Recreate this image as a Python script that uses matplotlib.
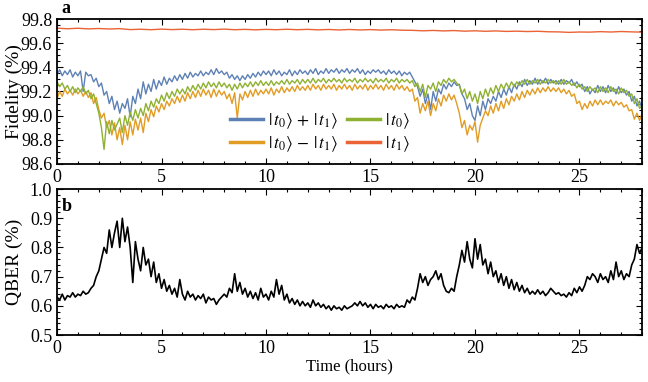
import matplotlib
matplotlib.use('Agg')
import matplotlib.pyplot as plt
from matplotlib.ticker import MultipleLocator, FormatStrFormatter
import numpy as np

# 保真度数据 (%), 每 0.125 小时一个读数, 每行 2 小时
fid_plus = [
    99.34, 99.38, 99.33, 99.37, 99.34, 99.38, 99.32, 99.36, 99.33, 99.37, 99.20, 99.36, 99.33, 99.34, 99.28, 99.31,
    99.24, 99.27, 99.17, 99.20, 99.10, 99.16, 99.05, 99.12, 99.02, 99.10, 99.06, 99.14, 98.99, 99.16, 99.10, 99.22,
    99.14, 99.28, 99.18, 99.26, 99.20, 99.30, 99.22, 99.29, 99.25, 99.32, 99.26, 99.31, 99.28, 99.33, 99.29, 99.34,
    99.30, 99.35, 99.31, 99.36, 99.32, 99.35, 99.33, 99.37, 99.33, 99.36, 99.34, 99.38, 99.34, 99.39, 99.35, 99.37,
    99.34, 99.36, 99.31, 99.34, 99.30, 99.33, 99.29, 99.33, 99.30, 99.34, 99.31, 99.35, 99.32, 99.36, 99.33, 99.37,
    99.34, 99.37, 99.33, 99.38, 99.34, 99.37, 99.33, 99.36, 99.34, 99.38, 99.33, 99.37, 99.34, 99.38, 99.35, 99.37,
    99.34, 99.38, 99.35, 99.39, 99.34, 99.37, 99.35, 99.39, 99.35, 99.38, 99.36, 99.39, 99.35, 99.38, 99.36, 99.39,
    99.35, 99.38, 99.36, 99.39, 99.35, 99.38, 99.34, 99.37, 99.35, 99.38, 99.36, 99.38, 99.35, 99.37, 99.34, 99.38,
    99.35, 99.37, 99.34, 99.37, 99.33, 99.36, 99.34, 99.36, 99.32, 99.28, 99.24, 99.16, 99.22, 99.10, 99.18, 99.05,
    99.20, 99.12, 99.22, 99.18, 99.26, 99.22, 99.27, 99.24, 99.28, 99.25, 99.26, 99.18, 99.14, 99.05, 99.10, 99.00,
    98.96, 99.08, 99.00, 99.12, 99.05, 99.14, 99.10, 99.16, 99.12, 99.20, 99.15, 99.22, 99.17, 99.24, 99.19, 99.26,
    99.22, 99.28, 99.24, 99.30, 99.25, 99.29, 99.26, 99.31, 99.26, 99.30, 99.27, 99.31, 99.26, 99.30, 99.27, 99.29,
    99.26, 99.30, 99.26, 99.29, 99.27, 99.30, 99.25, 99.28, 99.24, 99.26, 99.20, 99.24, 99.18, 99.22, 99.19, 99.25,
    99.20, 99.24, 99.19, 99.25, 99.20, 99.23, 99.18, 99.24, 99.19, 99.22, 99.17, 99.20, 99.12, 99.16, 99.08, 99.12,
    99.05]
fid_minus = [
    99.14, 99.20, 99.16, 99.22, 99.18, 99.21, 99.17, 99.22, 99.18, 99.21, 99.16, 99.20, 99.15, 99.19, 99.10, 99.15,
    99.05, 98.98, 99.02, 98.90, 98.96, 98.84, 98.94, 98.80, 98.90, 98.76, 98.92, 98.80, 98.95, 98.84, 98.97, 98.88,
    98.98, 98.86, 99.02, 98.95, 99.05, 98.99, 99.08, 99.03, 99.10, 99.05, 99.12, 99.08, 99.14, 99.10, 99.16, 99.11,
    99.17, 99.12, 99.19, 99.14, 99.20, 99.15, 99.21, 99.16, 99.22, 99.17, 99.21, 99.15, 99.22, 99.16, 99.21, 99.17,
    99.20, 99.14, 99.18, 99.10, 99.19, 98.98, 99.18, 99.13, 99.20, 99.15, 99.21, 99.16, 99.22, 99.17, 99.21, 99.18,
    99.22, 99.18, 99.23, 99.17, 99.22, 99.19, 99.24, 99.19, 99.23, 99.20, 99.24, 99.20, 99.25, 99.21, 99.24, 99.21,
    99.25, 99.21, 99.26, 99.22, 99.25, 99.21, 99.26, 99.22, 99.25, 99.22, 99.26, 99.21, 99.25, 99.22, 99.26, 99.22,
    99.25, 99.21, 99.26, 99.22, 99.25, 99.22, 99.26, 99.21, 99.25, 99.22, 99.26, 99.22, 99.25, 99.21, 99.26, 99.22,
    99.25, 99.21, 99.26, 99.22, 99.25, 99.21, 99.24, 99.20, 99.22, 99.12, 99.15, 99.02, 99.10, 99.04, 99.12, 99.00,
    99.10, 99.04, 99.14, 99.08, 99.17, 99.12, 99.18, 99.13, 99.17, 99.10, 99.02, 98.90, 98.96, 98.84, 98.92, 98.88,
    98.95, 98.78, 98.92, 98.98, 99.04, 99.00, 99.08, 99.02, 99.10, 99.04, 99.12, 99.06, 99.14, 99.09, 99.16, 99.12,
    99.18, 99.13, 99.20, 99.15, 99.21, 99.17, 99.22, 99.18, 99.23, 99.19, 99.23, 99.20, 99.24, 99.20, 99.23, 99.20,
    99.23, 99.19, 99.22, 99.18, 99.21, 99.16, 99.18, 99.10, 99.12, 99.05, 99.10, 99.06, 99.12, 99.08, 99.13, 99.09,
    99.13, 99.09, 99.12, 99.10, 99.13, 99.08, 99.12, 99.09, 99.11, 99.07, 99.09, 99.04, 99.05, 98.97, 99.02, 98.96,
    99.02]
fid_t0 = [
    99.28, 99.24, 99.27, 99.22, 99.25, 99.20, 99.24, 99.19, 99.23, 99.20, 99.24, 99.18, 99.21, 99.14, 99.18, 99.10,
    99.02, 98.90, 98.72, 98.95, 98.85, 98.96, 98.88, 98.93, 98.98, 98.86, 99.00, 98.92, 99.03, 98.96, 99.05, 98.98,
    99.06, 99.00, 99.10, 99.04, 99.12, 99.07, 99.14, 99.10, 99.17, 99.12, 99.19, 99.14, 99.20, 99.16, 99.22, 99.18,
    99.22, 99.18, 99.24, 99.20, 99.25, 99.21, 99.26, 99.22, 99.27, 99.23, 99.28, 99.24, 99.27, 99.23, 99.28, 99.24,
    99.27, 99.23, 99.26, 99.21, 99.26, 99.22, 99.27, 99.23, 99.27, 99.24, 99.28, 99.24, 99.28, 99.25, 99.29, 99.25,
    99.28, 99.25, 99.29, 99.25, 99.28, 99.26, 99.29, 99.26, 99.30, 99.26, 99.29, 99.27, 99.30, 99.26, 99.30, 99.27,
    99.30, 99.27, 99.31, 99.27, 99.30, 99.28, 99.31, 99.27, 99.30, 99.28, 99.31, 99.28, 99.30, 99.27, 99.31, 99.28,
    99.30, 99.28, 99.31, 99.27, 99.30, 99.28, 99.31, 99.28, 99.30, 99.27, 99.31, 99.28, 99.30, 99.28, 99.31, 99.27,
    99.30, 99.28, 99.31, 99.27, 99.30, 99.28, 99.30, 99.27, 99.29, 99.24, 99.27, 99.20, 99.26, 99.15, 99.25, 99.22,
    99.27, 99.20, 99.28, 99.25, 99.30, 99.27, 99.31, 99.28, 99.30, 99.27, 99.25, 99.18, 99.22, 99.14, 99.20, 99.12,
    99.18, 99.10, 99.20, 99.14, 99.22, 99.16, 99.23, 99.18, 99.25, 99.20, 99.26, 99.22, 99.27, 99.23, 99.28, 99.24,
    99.28, 99.25, 99.29, 99.26, 99.30, 99.26, 99.29, 99.27, 99.30, 99.26, 99.29, 99.27, 99.30, 99.27, 99.29, 99.26,
    99.29, 99.26, 99.30, 99.26, 99.28, 99.25, 99.27, 99.23, 99.26, 99.22, 99.24, 99.20, 99.24, 99.21, 99.23, 99.19,
    99.24, 99.20, 99.23, 99.19, 99.24, 99.20, 99.22, 99.18, 99.23, 99.19, 99.21, 99.16, 99.18, 99.10, 99.14, 99.06,
    99.08]
# |t1> 每 0.5 小时一个读数
fid_t1 = [99.725, 99.720, 99.724, 99.719, 99.722, 99.718, 99.721, 99.713, 99.716, 99.712,
          99.717, 99.713, 99.716, 99.712, 99.716, 99.713, 99.717, 99.712, 99.715, 99.711,
          99.715, 99.712, 99.716, 99.712, 99.715, 99.711, 99.714, 99.710, 99.714, 99.710,
          99.713, 99.709, 99.712, 99.708, 99.707, 99.703, 99.706, 99.702, 99.705, 99.700,
          99.703, 99.699, 99.702, 99.698, 99.700, 99.697, 99.699, 99.695, 99.694, 99.690,
          99.693, 99.692, 99.696, 99.693, 99.697, 99.694, 99.692]

# QBER (%), 每 0.125 小时一个读数
qber = [
    0.63, 0.62, 0.64, 0.62, 0.635, 0.63, 0.645, 0.63, 0.64, 0.635, 0.65, 0.64, 0.645, 0.66, 0.67, 0.70,
    0.72, 0.76, 0.80, 0.78, 0.86, 0.80, 0.85, 0.89, 0.80, 0.90, 0.82, 0.87, 0.80, 0.68, 0.82, 0.76,
    0.72, 0.80, 0.74, 0.76, 0.70, 0.75, 0.68, 0.71, 0.66, 0.69, 0.65, 0.67, 0.64, 0.66, 0.63, 0.69,
    0.64, 0.62, 0.65, 0.63, 0.64, 0.62, 0.635, 0.625, 0.64, 0.61, 0.63, 0.62, 0.625, 0.605, 0.62, 0.63,
    0.64, 0.63, 0.66, 0.645, 0.71, 0.65, 0.68, 0.64, 0.66, 0.63, 0.65, 0.625, 0.645, 0.62, 0.66, 0.63,
    0.64, 0.62, 0.65, 0.63, 0.69, 0.64, 0.67, 0.62, 0.64, 0.61, 0.625, 0.605, 0.62, 0.60, 0.615, 0.60,
    0.61, 0.595, 0.62, 0.60, 0.61, 0.595, 0.605, 0.59, 0.60, 0.585, 0.60, 0.59, 0.595, 0.585, 0.60, 0.59,
    0.595, 0.60, 0.61, 0.60, 0.615, 0.60, 0.61, 0.595, 0.605, 0.59, 0.605, 0.595, 0.60, 0.59, 0.605, 0.595,
    0.60, 0.59, 0.605, 0.595, 0.60, 0.595, 0.62, 0.61, 0.63, 0.62, 0.66, 0.71, 0.68, 0.70, 0.67, 0.69,
    0.70, 0.72, 0.69, 0.71, 0.67, 0.65, 0.645, 0.66, 0.65, 0.70, 0.74, 0.79, 0.75, 0.82, 0.76, 0.73,
    0.83, 0.76, 0.81, 0.74, 0.76, 0.71, 0.75, 0.70, 0.72, 0.68, 0.71, 0.67, 0.70, 0.66, 0.69, 0.655,
    0.68, 0.65, 0.67, 0.645, 0.66, 0.64, 0.65, 0.64, 0.655, 0.64, 0.65, 0.635, 0.645, 0.66, 0.65, 0.64,
    0.645, 0.635, 0.64, 0.63, 0.645, 0.635, 0.66, 0.645, 0.665, 0.65, 0.67, 0.70, 0.69, 0.71, 0.70, 0.68,
    0.71, 0.69, 0.70, 0.68, 0.72, 0.69, 0.75, 0.70, 0.72, 0.69, 0.71, 0.70, 0.74, 0.76, 0.81, 0.78,
    0.80]

T_END = 28
FS = 13
YLAB_X = -0.058   # y 轴标题的位置 (轴坐标)


def time_axis(vals):
    return np.linspace(0, T_END, len(vals))


def style_axis(ax):
    '''Mathematica 风格的边框和刻度'''
    for sp in ax.spines.values():
        sp.set_linewidth(1.3)
    ax.tick_params(which='both', direction='in', top=True, right=True,
                   labelsize=FS, width=0.8)
    ax.tick_params(which='major', length=4)
    ax.tick_params(which='minor', length=2)
    ax.xaxis.set_major_locator(MultipleLocator(5))
    ax.xaxis.set_minor_locator(MultipleLocator(1))
    ax.set_xlim(0, T_END)


plt.rcParams['font.family'] = ['Liberation Serif', 'DejaVu Serif']
plt.rcParams['mathtext.fontset'] = 'stix'

fig = plt.figure(figsize=(6.48, 3.82), dpi=100)
ax1 = fig.add_axes([0.088, 0.571, 0.903, 0.379])
ax2 = fig.add_axes([0.088, 0.123, 0.903, 0.382])

# 上图: 保真度
ax1.plot(time_axis(fid_plus), fid_plus, color='#5E81B5', lw=1.0,
         label=r'$|\,t_0\rangle\,+\,|\,t_1\rangle$')
ax1.plot(time_axis(fid_minus), fid_minus, color='#E19C24', lw=1.0,
         label=r'$|\,t_0\rangle\,-\,|\,t_1\rangle$')
ax1.plot(time_axis(fid_t0), fid_t0, color='#8FB131', lw=1.0,
         label=r'$|\,t_0\rangle$')
ax1.plot(time_axis(fid_t1), fid_t1, color='#EB6235', lw=1.0,
         label=r'$|\,t_1\rangle$')
style_axis(ax1)
ax1.set_ylim(98.6, 99.8)
ax1.yaxis.set_major_locator(MultipleLocator(0.2))
ax1.yaxis.set_minor_locator(MultipleLocator(0.05))
ax1.yaxis.set_major_formatter(FormatStrFormatter('%.1f'))
ax1.set_ylabel('Fidelity (%)', fontsize=14)
ax1.yaxis.set_label_coords(YLAB_X, 0.5)
ax1.legend(loc='center', bbox_to_anchor=(0.449, 0.217), ncol=2, frameon=False,
           fontsize=12.5, handlelength=1.9, handletextpad=0.3, columnspacing=0.5,
           labelspacing=0.2, borderpad=0)
for ln in ax1.get_legend().get_lines():
    ln.set_linewidth(2.5)
ax1.text(0.008, 1.015, 'a', transform=ax1.transAxes, fontsize=FS,
         fontweight='bold', va='bottom', ha='left')

# 下图: QBER
ax2.plot(time_axis(qber), qber, color='k', lw=1.2)
style_axis(ax2)
ax2.set_ylim(0.5, 1.0)
ax2.yaxis.set_major_locator(MultipleLocator(0.1))
ax2.yaxis.set_minor_locator(MultipleLocator(0.02))
ax2.yaxis.set_major_formatter(FormatStrFormatter('%.1f'))
ax2.set_ylabel('QBER (%)', fontsize=14)
ax2.yaxis.set_label_coords(YLAB_X, 0.5)
ax2.set_xlabel('Time (hours)', fontsize=12, labelpad=1)
ax2.text(0.008, 0.94, 'b', transform=ax2.transAxes, fontsize=FS,
         fontweight='bold', va='top', ha='left')

fig.savefig('out.png', dpi=100)
